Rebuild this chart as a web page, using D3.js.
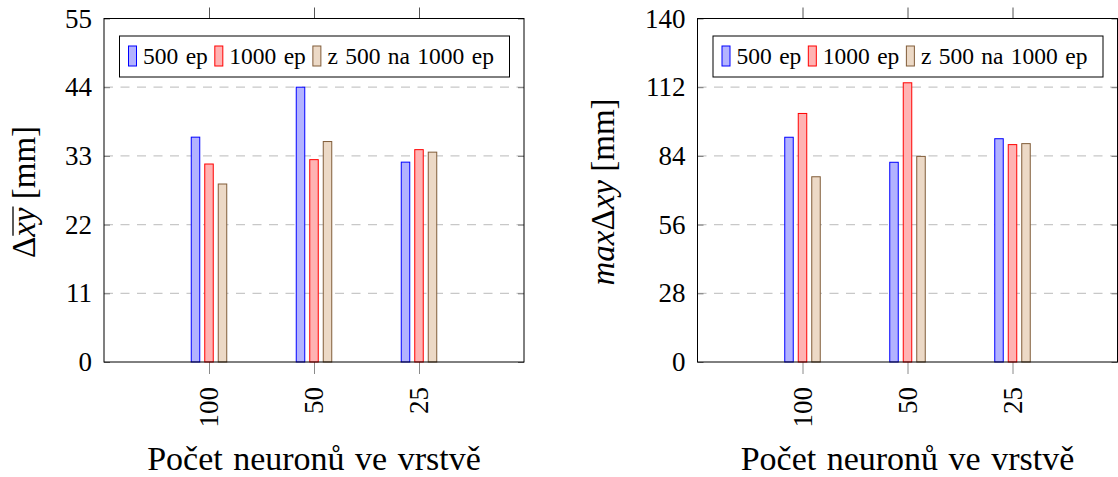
<!DOCTYPE html>
<html>
<head>
<meta charset="utf-8">
<script src="https://cdn.jsdelivr.net/npm/d3@7"></script>
<style>
  body { margin: 0; background: #fff; }
  svg text { font-family: "Liberation Serif", "Times New Roman", Times, "DejaVu Serif", serif; }
  .grid line { stroke: #c8c8c8; stroke-width: 1.2; stroke-dasharray: 9 7.5; }
</style>
</head>
<body>
<svg id="chart" width="1118" height="477"></svg>
<script>
var categories = ["100", "50", "25"];
var seriesNames = ["500 ep", "1000 ep", "z 500 na 1000 ep"];

// left plot: mean error
var left500 = [36.0, 44.0, 32.0];
var left1000 = [31.7, 32.4, 34.0];
var leftCont = [28.5, 35.3, 33.6];
var leftTicks = [0, 11, 22, 33, 44, 55];

// right plot: max error
var right500 = [91.6, 81.4, 91.0];
var right1000 = [101.3, 113.8, 88.6];
var rightCont = [75.5, 83.8, 89.0];
var rightTicks = [0, 28, 56, 84, 112, 140];

var fills = ["#b3b3ff", "#ffb3b3", "#ecd9c6"];
var strokes = ["#0000ff", "#ff0000", "#805c38"];

var svg = d3.select("#chart");

function drawPanel(opts) {
    var left = opts.left, right = opts.left + 420,
        top = 18.5, bottom = 362;

    var x = d3.scalePoint()
        .domain(categories)
        .range([left, right])
        .padding(1);

    var y = d3.scaleLinear()
        .domain([opts.ticks[0], opts.ticks[opts.ticks.length - 1]])
        .range([bottom, top]);

    var offset = d3.scalePoint()
        .domain(seriesNames)
        .range([-13.5, 13.5]);

    var g = svg.append("g");

    // dashed grid
    g.append("g")
        .attr("class", "grid")
        .selectAll("line")
        .data(opts.ticks.slice(1, -1)).enter()
        .append("line")
        .attr("x1", left).attr("x2", right)
        .attr("y1", function (d) { return y(d); })
        .attr("y2", function (d) { return y(d); });

    // y axis, ticks inside on both sides
    var yAxis = g.append("g")
        .attr("transform", "translate(" + left + ",0)")
        .call(d3.axisLeft(y).tickValues(opts.ticks).tickSize(-6).tickPadding(12));
    yAxis.select(".domain").remove();
    yAxis.selectAll("line").attr("stroke", "#7a7a7a");
    yAxis.selectAll("text")
        .style("font-size", "27px")
        .attr("fill", "#000");

    var yRight = g.append("g")
        .attr("transform", "translate(" + right + ",0)")
        .call(d3.axisRight(y).tickValues(opts.ticks).tickSize(-6).tickFormat(""));
    yRight.select(".domain").remove();
    yRight.selectAll("line").attr("stroke", "#7a7a7a");

    // x axis, bottom with rotated labels
    var xAxis = g.append("g")
        .attr("transform", "translate(0," + bottom + ")")
        .call(d3.axisBottom(x).tickSize(12).tickPadding(12));
    xAxis.select(".domain").remove();
    xAxis.selectAll("line").attr("stroke", "#8a8a8a");
    xAxis.selectAll("text")
        .style("font-size", "27px")
        .attr("fill", "#000")
        .attr("text-anchor", "end")
        .attr("transform", "rotate(-90)")
        .attr("x", -25)
        .attr("y", 0)
        .attr("dy", "0.32em");

    // top ticks
    var xTop = g.append("g")
        .attr("transform", "translate(0," + top + ")")
        .call(d3.axisTop(x).tickSize(11).tickFormat(""));
    xTop.select(".domain").remove();
    xTop.selectAll("line").attr("stroke", "#555");

    // bars
    opts.series.forEach(function (vals, si) {
        g.append("g")
            .selectAll("rect")
            .data(vals).enter()
            .append("rect")
            .attr("x", function (d, i) { return x(categories[i]) + offset(seriesNames[si]) - 4.25; })
            .attr("width", 8.5)
            .attr("y", function (d) { return y(d); })
            .attr("height", function (d) { return bottom - y(d); })
            .attr("fill", fills[si])
            .attr("stroke", strokes[si])
            .attr("stroke-width", 1);
    });

    // frame
    g.append("rect")
        .attr("x", left).attr("y", top)
        .attr("width", right - left).attr("height", bottom - top)
        .attr("fill", "none")
        .attr("stroke", "#000")
        .attr("stroke-width", 1);

    // legend
    var lg = g.append("g")
        .attr("transform", "translate(" + (left + 15.5) + ",36)");
    lg.append("rect")
        .attr("width", 390).attr("height", 41)
        .attr("fill", "#fff").attr("stroke", "#000").attr("stroke-width", 1);
    var lx = 9;
    seriesNames.forEach(function (name, si) {
        lg.append("rect")
            .attr("x", lx).attr("y", 10)
            .attr("width", 8).attr("height", 20)
            .attr("fill", fills[si]).attr("stroke", strokes[si]);
        var t = lg.append("text")
            .attr("x", lx + 14.5).attr("y", 28)
            .style("font-size", "23.5px")
            .style("word-spacing", "1.5px")
            .text(name);
        lx += 14.5 + t.node().getComputedTextLength() + 7;
    });

    // x label
    g.append("text")
        .attr("x", (left + right) / 2)
        .attr("y", 470)
        .attr("text-anchor", "middle")
        .style("font-size", "34px")
        .style("word-spacing", "2px")
        .text("Počet neuronů ve vrstvě");

    // y label
    var lblG = g.append("g")
        .attr("transform", "translate(" + opts.labelX + ",192) rotate(-90)");
    var yl = lblG.append("text")
        .attr("text-anchor", "middle")
        .style("font-size", "33px");
    opts.label(yl, lblG);
}

drawPanel({
    left: 104,
    ticks: leftTicks,
    series: [left500, left1000, leftCont],
    labelX: 35,
    label: function (t, holder) {
        t.append("tspan").text("Δ");
        t.append("tspan").style("font-style", "italic").text("xy");
        t.append("tspan").text(" [mm]");
        // bar over xy
        var n = t.node();
        var p0 = n.getStartPositionOfChar(1), p1 = n.getEndPositionOfChar(2);
        holder.append("line")
            .attr("x1", p0.x + 1).attr("x2", p1.x + 1)
            .attr("y1", -22).attr("y2", -22)
            .attr("stroke", "#000").attr("stroke-width", 1.3);
    }
});

drawPanel({
    left: 697.5,
    ticks: rightTicks,
    series: [right500, right1000, rightCont],
    labelX: 614,
    label: function (t) {
        t.append("tspan").style("font-style", "italic").text("max");
        t.append("tspan").text("Δ");
        t.append("tspan").style("font-style", "italic").text("xy");
        t.append("tspan").text(" [mm]");
    }
});
</script>
</body>
</html>
